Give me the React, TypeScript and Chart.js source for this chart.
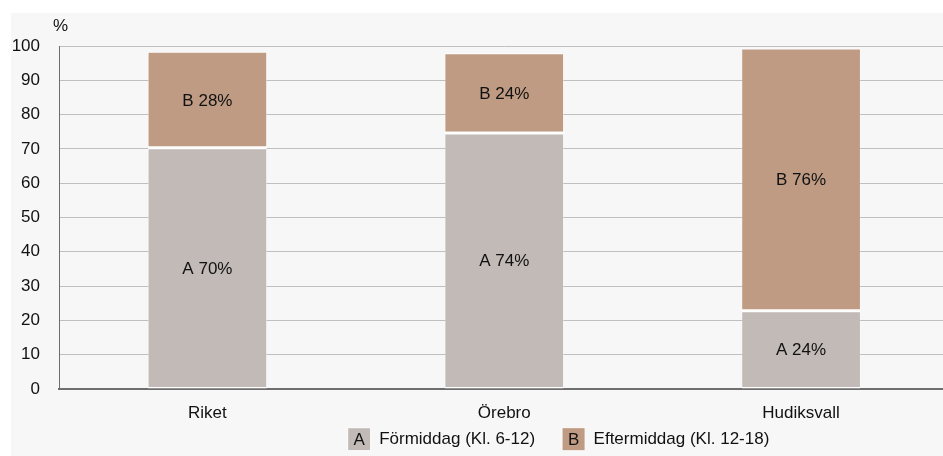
import React, { useEffect, useRef } from "react";
import { Chart, registerables } from "chart.js";

Chart.register(...registerables);

const categories = ["Riket", "Örebro", "Hudiksvall"];
const seriesNames = ["Förmiddag (Kl. 6-12)", "Eftermiddag (Kl. 12-18)"];
const seriesLetters = ["A", "B"];
const valuesA = [70.3, 74.6, 22.8];
const valuesB = [28.0, 23.3, 76.5];
const labelPctA = [70, 74, 24];
const labelPctB = [28, 24, 76];
const yTicks = [0, 10, 20, 30, 40, 50, 60, 70, 80, 90, 100];

const FONT = "'Liberation Sans', Arial, sans-serif";
const COLOR_A = "#c1bab6";
const COLOR_B = "#bf9b83";
const W = 1094;
const H = 471;

export default function App() {
  const ref = useRef<HTMLCanvasElement | null>(null);

  useEffect(() => {
    if (!ref.current) return;
    const pctLabels = [labelPctA, labelPctB];

    const labelPlugin = {
      id: "segLabels",
      afterLayout(chart: any) {
        const lg = chart.legend;
        if (!lg) return;
        const targetTop = chart.chartArea.bottom + 38.7 - 27;
        const shift = targetTop - lg.top;
        lg.top += shift;
        lg.bottom += shift;
      },
      afterDatasetsDraw(chart: any) {
        const ctx = chart.ctx;
        ctx.save();
        ctx.font = `17px ${FONT}`;
        ctx.fillStyle = "#111111";
        ctx.textAlign = "center";
        ctx.textBaseline = "middle";
        chart.data.datasets.forEach((ds: any, di: number) => {
          const meta = chart.getDatasetMeta(di);
          meta.data.forEach((el: any, i: number) => {
            const p = el.getProps(["x", "y", "base"], true);
            ctx.fillText(`${seriesLetters[di]} ${pctLabels[di][i]}%`, p.x, (p.y + p.base) / 2 + 1);
          });
        });
        ctx.restore();
      },
      afterDraw(chart: any) {
        const ctx = chart.ctx;
        ctx.save();
        ctx.font = `17px ${FONT}`;
        ctx.fillStyle = "#111111";
        ctx.textAlign = "center";
        ctx.textBaseline = "middle";
        ctx.fillText("%", chart.chartArea.left + 1.5, chart.chartArea.top - 20);
        const boxes = chart.legend?.legendHitBoxes || [];
        boxes.forEach((b: any, i: number) => {
          ctx.fillText(seriesLetters[i], b.left + 11.5, b.top + 12.5);
        });
        ctx.restore();
      },
    };

    const chart = new Chart(ref.current, {
      type: "bar",
      data: {
        labels: categories,
        datasets: [
          {
            label: seriesNames[0],
            data: valuesA,
            backgroundColor: COLOR_A,
            borderColor: "#ffffff",
            borderWidth: { top: 1.5, bottom: 1.5, left: 0.5, right: 0.5 },
            borderSkipped: false,
            categoryPercentage: 1,
            barPercentage: 0.4,
          },
          {
            label: seriesNames[1],
            data: valuesB,
            backgroundColor: COLOR_B,
            borderColor: "#ffffff",
            borderWidth: { top: 1, bottom: 1.5, left: 0.5, right: 0.5 },
            borderSkipped: false,
            categoryPercentage: 1,
            barPercentage: 0.4,
          },
        ],
      },
      options: {
        responsive: false,
        animation: false,
        devicePixelRatio: 1,
        layout: { padding: { top: 33, left: 1, right: 0, bottom: 0 } },
        plugins: {
          tooltip: { enabled: false },
          legend: {
            position: "bottom",
            align: "center",
            labels: {
              boxWidth: 23,
              boxHeight: 23,
              padding: 27,
              color: "#111111",
              font: { family: FONT, size: 17 },
            },
          },
        },
        scales: {
          x: {
            stacked: true,
            grid: { display: false, drawTicks: false },
            border: { display: true, color: "#6e6e6e", width: 2 },
            ticks: { color: "#111111", font: { family: FONT, size: 17 }, padding: 14 },
            afterFit(scale: any) {
              scale.paddingLeft = 0;
              scale.paddingRight = 0;
              scale.height = 35;
            },
          },
          y: {
            stacked: true,
            min: 0,
            max: 100,
            afterBuildTicks(scale: any) {
              scale.ticks = yTicks.map((v) => ({ value: v }));
            },
            afterFit(scale: any) {
              scale.width = 47;
            },
            grid: { color: "#bfbfbf", lineWidth: 1, drawTicks: false },
            border: { display: true, color: "#6e6e6e", width: 1 },
            ticks: { color: "#111111", font: { family: FONT, size: 17 }, padding: 19 },
          },
          yR: {
            position: "right",
            display: true,
            grid: { display: false, drawTicks: false },
            border: { display: false },
            ticks: { display: false },
            afterFit(scale: any) {
              scale.width = 155.5;
            },
          },
        },
      },
      plugins: [labelPlugin],
    } as any);

    return () => chart.destroy();
  }, []);

  return (
    <div style={{ position: "fixed", left: 0, top: 0, width: "100vw", height: "100vh", overflow: "hidden", background: "#ffffff" }}>
      <div style={{ position: "absolute", left: 11, top: 13, width: W, height: H, background: "#f7f7f7" }}>
        <canvas ref={ref} width={W} height={H} style={{ display: "block", width: W, height: H }} />
      </div>
    </div>
  );
}
